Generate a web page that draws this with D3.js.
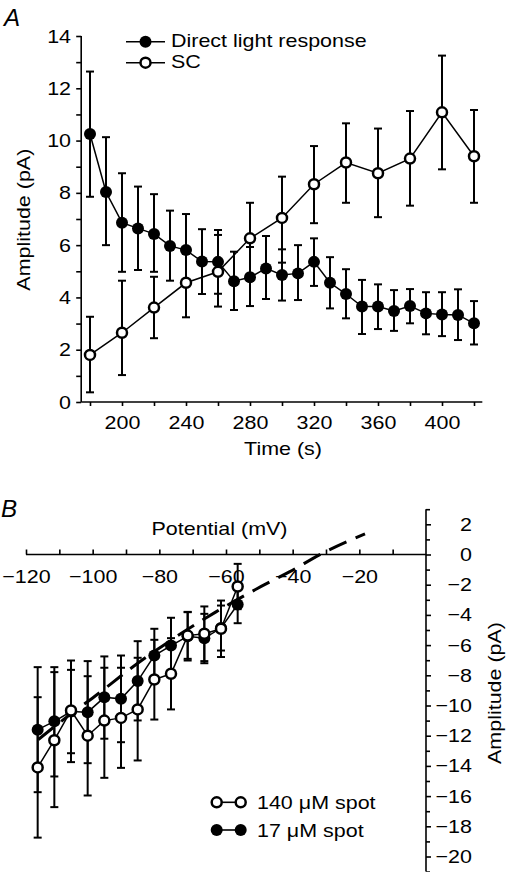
<!DOCTYPE html>
<html><head><meta charset="utf-8">
<script src="https://cdn.jsdelivr.net/npm/d3@7"></script>
<style>
html,body{margin:0;padding:0;background:#fff;}
svg{display:block;}
text{font-family:"Liberation Sans",Arial,Helvetica,sans-serif;fill:#000;}
</style></head>
<body>
<script>
// ---------- Panel A data ----------
const directTime = [180,190,200,210,220,230,240,250,260,270,280,290,300,310,320,330,340,350,360,370,380,390,400,410,420];
const directMean = [10.25,8.03,6.86,6.64,6.43,5.97,5.81,5.37,5.36,4.62,4.77,5.11,4.86,4.92,5.36,4.56,4.13,3.65,3.65,3.48,3.67,3.39,3.35,3.33,3.01];
const directUpper = [12.64,10.13,8.75,8.24,7.95,7.32,7.19,6.61,6.58,5.75,5.93,6.35,5.84,6.0,6.26,5.54,5.08,4.67,4.5,4.28,4.32,4.2,4.2,4.31,3.86];
const directLower = [7.85,6.0,4.98,5.05,4.98,4.64,4.43,4.13,4.14,3.52,3.67,3.94,3.88,3.9,4.44,3.58,3.2,2.6,2.79,2.72,3.01,2.59,2.52,2.37,2.2];

const scTime = [180,200,220,240,260,280,300,320,340,360,380,400,420];
const scMean = [1.8,2.65,3.61,4.56,4.98,6.26,7.04,8.33,9.16,8.75,9.31,11.08,9.4];
const scUpper = [3.26,4.64,4.79,5.88,6.39,7.62,8.62,9.79,10.66,10.46,11.13,13.25,11.17];
const scLower = [0.37,1.03,2.44,3.24,3.65,4.9,5.33,6.84,7.62,7.07,7.51,8.9,7.62];

const aXTickLabels = [200,240,280,320,360,400];
const aXMinorTicks = [180,220,260,300,340,380,420];
const aYTickLabels = [0,2,4,6,8,10,12,14];
const aYMinorTicks = [1,3,5,7,9,11,13];
const aLegend = ["Direct light response","SC"];

// ---------- Panel B data ----------
const potential = [-116.5,-111.5,-106.5,-101.5,-96.5,-91.5,-86.5,-81.5,-76.5,-71.5,-66.5,-61.5,-56.5];
const spot140Mean  = [-14.1,-12.3,-10.33,-12.0,-11.0,-10.82,-10.26,-8.28,-7.9,-5.37,-5.25,-4.92,-2.12];
const spot140Upper = [-9.45,-7.79,-7.02,-8.06,-7.5,-7.5,-6.84,-5.65,-5.54,-3.82,-3.44,-3.05,-0.62];
const spot140Lower = [-18.75,-16.73,-13.75,-15.96,-14.79,-14.13,-13.64,-10.93,-10.26,-6.91,-7.06,-6.79,-3.62];
const spot17Mean  = [-11.6,-11.05,-10.4,-10.44,-9.46,-9.56,-8.38,-6.69,-6.03,-5.42,-5.55,-4.87,-3.31];
const spot17Upper = [-7.46,-7.46,-7.64,-7.06,-6.75,-6.69,-5.74,-4.92,-4.19,-3.8,-3.93,-3.38,-2.07];
const spot17Lower = [-15.74,-14.7,-13.16,-13.82,-12.2,-12.43,-10.99,-8.46,-7.87,-7.02,-7.2,-6.36,-4.55];

const fitPotential = [-116.3,-105,-100,-88,-63,-51,-41,-30,-18.3];
const fitAmplitude = [-12.25,-10.3,-9.5,-7.45,-3.8,-2.3,-1.15,0.2,1.37];

const bXTickLabels = [-120,-100,-80,-60,-40,-20];
const bXMinorTicks = [-110,-90,-70,-50,-30,-10];
const bYTickLabels = [2,0,-2,-4,-6,-8,-10,-12,-14,-16,-18,-20];
const bYMinorTicks = [3,1,-1,-3,-5,-7,-9,-11,-13,-15,-17,-19,-21];
const bLegend = ["140 \u03bcM spot","17 \u03bcM spot"];

// ---------- drawing ----------
const W = 508, H = 872, FS = 19, SX = 1.13;
const svg = d3.select("body").append("svg").attr("width", W).attr("height", H);
svg.append("rect").attr("width", W).attr("height", H).attr("fill", "#fff");

function label(g, x, y, s, o = {}) {
  const t = g.append("text")
    .attr("transform", `translate(${x},${y})` + (o.rot ? ` rotate(${o.rot})` : "") + ` scale(${o.sx || SX},1)`)
    .attr("font-size", o.fs || FS)
    .attr("text-anchor", o.anchor || "start")
    .text(s);
  if (o.italic) t.attr("font-style", "italic");
  return t;
}
function styleAxis(g) {
  g.select(".domain").remove();
  g.selectAll(".tick line").attr("stroke", "#000").attr("stroke-width", 1.6);
  g.selectAll(".tick text").attr("font-size", FS).attr("fill", "#000")
    .attr("font-family", '"Liberation Sans",Arial,Helvetica,sans-serif');
}
const minus = d => (d < 0 ? "\u2212" : "") + Math.abs(d);

// ===== Panel A =====
const xA = d3.scaleLinear().domain([200, 400]).range([122, 442]);
const yA = d3.scaleLinear().domain([0, 14]).range([402, 36]);
const gA = svg.append("g");
const axX0 = xA(174.5), axX1 = xA(425.2);

gA.append("line").attr("x1", axX0).attr("x2", axX1).attr("y1", yA(0)).attr("y2", yA(0)).attr("stroke", "#000").attr("stroke-width", 1.6);
gA.append("line").attr("x1", axX0).attr("x2", axX0).attr("y1", yA(0)).attr("y2", yA(14)).attr("stroke", "#000").attr("stroke-width", 1.6);

const axAx = gA.append("g").attr("transform", `translate(0,${yA(0)})`)
  .call(d3.axisBottom(xA).tickValues(aXTickLabels).tickSize(4).tickPadding(10));
styleAxis(axAx);
axAx.selectAll(".tick text").attr("transform", `scale(${SX},1)`);
const axAxm = gA.append("g").attr("transform", `translate(0,${yA(0)})`)
  .call(d3.axisBottom(xA).tickValues(aXMinorTicks).tickSize(4).tickFormat(""));
styleAxis(axAxm);

const axAy = gA.append("g").attr("transform", `translate(${axX0},0)`)
  .call(d3.axisLeft(yA).tickValues(aYTickLabels).tickSize(5).tickPadding(4));
styleAxis(axAy);
axAy.selectAll(".tick text").attr("transform", `scale(${SX},1)`);
const axAym = gA.append("g").attr("transform", `translate(${axX0},0)`)
  .call(d3.axisLeft(yA).tickValues(aYMinorTicks).tickSize(5).tickFormat(""));
styleAxis(axAym);

function errorBars(g, xs, lo, hi, xScale, yScale, cap) {
  xs.forEach((xv, i) => {
    const x = xScale(xv);
    g.append("line").attr("x1", x).attr("x2", x).attr("y1", yScale(lo[i])).attr("y2", yScale(hi[i])).attr("stroke", "#000").attr("stroke-width", 2);
    [lo[i], hi[i]].forEach(v => g.append("line").attr("x1", x - cap).attr("x2", x + cap).attr("y1", yScale(v)).attr("y2", yScale(v)).attr("stroke", "#000").attr("stroke-width", 2));
  });
}
function series(g, xs, ys, xScale, yScale, filled) {
  const pts = xs.map((x, i) => [x, ys[i]]);
  g.append("path").attr("d", d3.line().x(d => xScale(d[0])).y(d => yScale(d[1]))(pts))
    .attr("fill", "none").attr("stroke", "#000").attr("stroke-width", 1.5);
  return pts;
}
function dots(g, pts, xScale, yScale, filled) {
  g.selectAll(null).data(pts).enter().append("circle")
    .attr("cx", d => xScale(d[0])).attr("cy", d => yScale(d[1]))
    .attr("r", filled ? 6 : 5)
    .attr("fill", filled ? "#000" : "#fff")
    .attr("stroke", "#000").attr("stroke-width", filled ? 0 : 2.5);
}

errorBars(gA, directTime, directLower, directUpper, xA, yA, 4);
errorBars(gA, scTime, scLower, scUpper, xA, yA, 4);
const pDir = series(gA, directTime, directMean, xA, yA);
const pSc = series(gA, scTime, scMean, xA, yA);
dots(gA, pDir, xA, yA, true);
dots(gA, pSc, xA, yA, false);

// legend A
[[41.7, true], [62.7, false]].forEach(([y, f], i) => {
  gA.append("line").attr("x1", 126).attr("x2", 165).attr("y1", y).attr("y2", y).attr("stroke", "#000").attr("stroke-width", 1.6);
  gA.append("circle").attr("cx", 145.5).attr("cy", y).attr("r", f ? 6 : 5)
    .attr("fill", f ? "#000" : "#fff").attr("stroke", "#000").attr("stroke-width", f ? 0 : 2.5);
  label(gA, 171, y + 5.3, aLegend[i]);
});

label(gA, 283, 455, "Time (s)", { anchor: "middle" });
label(gA, 30, 219.7, "Amplitude (pA)", { anchor: "middle", rot: -90 });
label(gA, 4, 26, "A", { fs: 23, italic: true, sx: 1.05 });

// ===== Panel B =====
const xB = d3.scaleLinear().domain([-120, 0]).range([26, 426]);
const yB = d3.scaleLinear().domain([0, -20]).range([554.5, 856.5]);
const gB = svg.append("g");

gB.append("line").attr("x1", xB(-120)).attr("x2", xB(0)).attr("y1", yB(0)).attr("y2", yB(0)).attr("stroke", "#000").attr("stroke-width", 1.6);
gB.append("line").attr("x1", xB(0)).attr("x2", xB(0)).attr("y1", yB(3)).attr("y2", yB(-21)).attr("stroke", "#000").attr("stroke-width", 1.6);

const axBx = gB.append("g").attr("transform", `translate(0,${yB(0)})`)
  .call(d3.axisBottom(xB).tickValues(bXTickLabels).tickSize(-5).tickPadding(15).tickFormat(minus));
styleAxis(axBx);
axBx.selectAll(".tick text").attr("transform", `scale(${SX},1)`);
const axBxm = gB.append("g").attr("transform", `translate(0,${yB(0)})`)
  .call(d3.axisBottom(xB).tickValues(bXMinorTicks).tickSize(-5).tickFormat(""));
styleAxis(axBxm);

const axBy = gB.append("g").attr("transform", `translate(${xB(0)},0)`)
  .call(d3.axisRight(yB).tickValues(bYTickLabels).tickSize(5).tickPadding(4).tickFormat(minus));
styleAxis(axBy);
axBy.selectAll(".tick text").attr("text-anchor", "end").attr("x", 46 / SX).attr("transform", `scale(${SX},1)`);
const axBym = gB.append("g").attr("transform", `translate(${xB(0)},0)`)
  .call(d3.axisRight(yB).tickValues(bYMinorTicks).tickSize(4).tickFormat(""));
styleAxis(axBym);

errorBars(gB, potential, spot17Lower, spot17Upper, xB, yB, 4);
errorBars(gB, potential, spot140Lower, spot140Upper, xB, yB, 4);
const fitPts = fitPotential.map((p, i) => [p, fitAmplitude[i]]);
gB.append("path").attr("d", d3.line().curve(d3.curveMonotoneX).x(d => xB(d[0])).y(d => yB(d[1]))(fitPts))
  .attr("fill", "none").attr("stroke", "#000").attr("stroke-width", 3).attr("stroke-dasharray", "19,10");
const p17 = series(gB, potential, spot17Mean, xB, yB);
const p140 = series(gB, potential, spot140Mean, xB, yB);
dots(gB, p17, xB, yB, true);
dots(gB, p140, xB, yB, false);

// legend B
[[802.3, false], [830, true]].forEach(([y, f], i) => {
  gB.append("line").attr("x1", 216.7).attr("x2", 240.7).attr("y1", y).attr("y2", y).attr("stroke", "#000").attr("stroke-width", 1.6);
  [216.7, 240.7].forEach(cx => gB.append("circle").attr("cx", cx).attr("cy", y).attr("r", f ? 6 : 5)
    .attr("fill", f ? "#000" : "#fff").attr("stroke", "#000").attr("stroke-width", f ? 0 : 2.5));
  label(gB, 257, y + 6.5, bLegend[i]);
});

label(gB, 219.5, 535, "Potential (mV)", { anchor: "middle" });
label(gB, 501, 693, "Amplitude (pA)", { anchor: "middle", rot: -90 });
label(gB, 1, 517, "B", { fs: 23, italic: true, sx: 1.05 });
</script>
</body></html>
